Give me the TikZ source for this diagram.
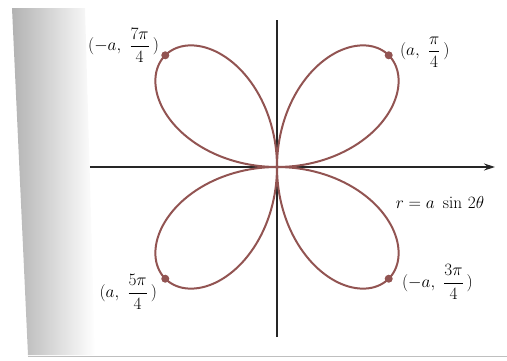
\documentclass[tikz,border=0pt]{standalone}
\usepackage{amsmath,amssymb}
\usepackage{tikz}
\usetikzlibrary{arrows.meta,positioning}
\definecolor{rosecol}{RGB}{146,84,82}

\begin{document}
\begin{tikzpicture}[
    x=1pt, y=1pt,
    axisline/.style={line width=1.3pt, black!85},
    roseline/.style={line width=2pt, rosecol},
    rosedot/.style={circle, fill=rosecol, inner sep=0pt, minimum size=8pt},
    ptlabel/.style={inner sep=0pt, font=\fontsize{17}{20}\selectfont},
    >={Stealth[length=11pt, width=7pt]}
]
\useasboundingbox (-277,-193) rectangle (230,167);
\shade[left color=black!30, right color=white] (-265,159) -- (-192,159) -- (-182,-188) -- (-249,-188) -- cycle;
\draw[black!25, line width=0.8pt] (-249,-189) -- (230,-189);

\coordinate (xl) at (-187,0);
\coordinate (xr) at (218,0);
\coordinate (yt) at (0,147);
\coordinate (yb) at (0,-170);
\draw[axisline, ->] (xl) -- (xr);
\draw[axisline] (yb) -- (yt);

\draw[roseline] plot[domain=0:360, samples=361] (\x:{158*sin(2*\x)});

\node[rosedot] (P1) at (45:158) {};
\node[rosedot] (P3) at (-45:158) {};
\node[rosedot] (P5) at (225:158) {};
\node[rosedot] (P7) at (135:158) {};

\node[ptlabel, right=7pt of P1, yshift=3pt] (L1) {$(a,\ \dfrac{\pi}{4}\,)$};
\node[ptlabel, right=9pt of P3, yshift=-3pt] (L3) {$(-a,\ \dfrac{3\pi}{4}\,)$};
\node[ptlabel, left=4pt of P5, yshift=-13pt] (L5) {$(a,\ \dfrac{5\pi}{4}\,)$};
\node[ptlabel, left=2pt of P7, yshift=10pt] (L7) {$(-a,\ \dfrac{7\pi}{4}\,)$};
\node[ptlabel] (eqn) at (163,-35) {$r = a\ \sin\, 2\theta$};
\end{tikzpicture}
\end{document}
